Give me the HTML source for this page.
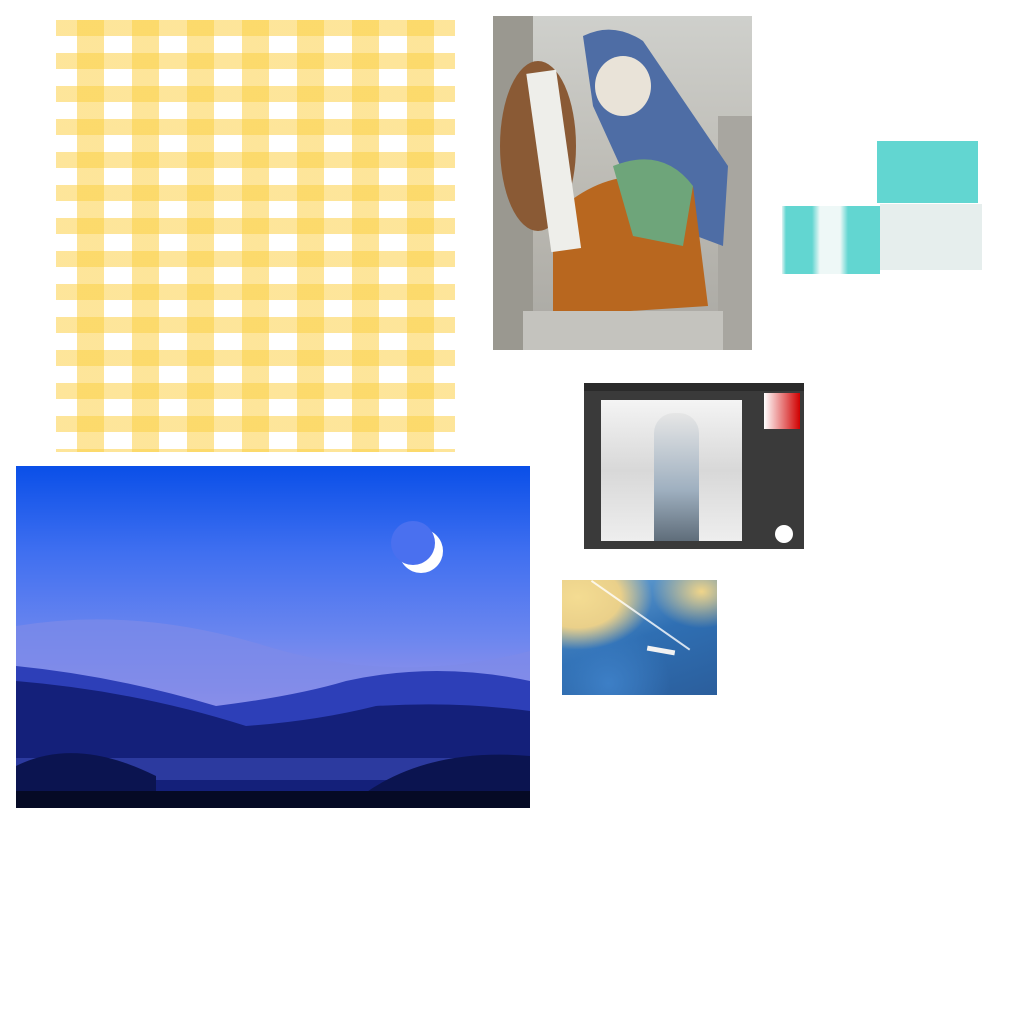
<!DOCTYPE html>
<html><head><meta charset="utf-8">
<style>
html,body{margin:0;padding:0;background:#fff;width:1024px;height:1024px;overflow:hidden;position:relative;font-family:"Liberation Sans",sans-serif}
.a{position:absolute}
#ging{left:56px;top:20px;width:399px;height:432px;
background:
repeating-linear-gradient(90deg,transparent 0 21px,rgba(252,208,70,.55) 21px 48px,transparent 48px 55px),
repeating-linear-gradient(180deg,rgba(252,208,70,.55) 0 16px,transparent 16px 33px),#fff;}
</style></head><body>
<div class="a" id="ging"></div>

<div class="a" style="left:493px;top:16px;width:259px;height:334px;background:linear-gradient(180deg,#cfd0cc,#b9b7b0 60%,#a9a8a3);overflow:hidden">
<svg width="259" height="334" viewBox="0 0 259 334">
<rect x="0" y="0" width="40" height="334" fill="#9a9890"/>
<rect x="225" y="100" width="34" height="234" fill="#a8a6a0"/>
<ellipse cx="45" cy="130" rx="38" ry="85" fill="#8a5a35"/>
<path d="M90 20 Q120 5 150 25 L235 150 L230 230 L150 200 L100 90 Z" fill="#4e6da5"/>
<ellipse cx="130" cy="70" rx="28" ry="30" fill="#e9e3d8"/>
<path d="M60 200 Q120 140 200 170 L215 290 L60 300 Z" fill="#b8671f"/>
<path d="M120 150 Q170 130 200 170 L190 230 L140 220 Z" fill="#6ea57a"/>
<rect x="45" y="55" width="30" height="180" fill="#eeeeea" transform="rotate(-8 60 140)"/>
<rect x="30" y="295" width="200" height="39" fill="#c4c3be"/>
</svg></div>

<div class="a" style="left:877px;top:141px;width:101px;height:62px;background:#62d6d1"></div>
<div class="a" style="left:880px;top:204px;width:102px;height:66px;background:#e6eeed"></div>
<div class="a" style="left:782px;top:206px;width:98px;height:68px;background:linear-gradient(90deg,#e0f2f1 0,#62d6d1 4px,#62d6d1 30px,#eef8f7 38px,#eef8f7 58px,#62d6d1 66px,#62d6d1 98px)"></div>

<div class="a" style="left:584px;top:383px;width:220px;height:166px;background:#3a3a3a">
<div class="a" style="left:0;top:0;width:220px;height:8px;background:#2a2a2a"></div>
<div class="a" style="left:17px;top:17px;width:141px;height:141px;background:linear-gradient(180deg,#f4f4f4,#d8d8d8 50%,#eee)"></div>
<div class="a" style="left:70px;top:30px;width:45px;height:128px;border-radius:20px 20px 0 0;background:linear-gradient(180deg,#e6e6e6,#9fb0c0 60%,#5f6d7a)"></div>
<div class="a" style="left:180px;top:10px;width:36px;height:36px;background:linear-gradient(90deg,#fff,#d00000),#000"></div>
<div class="a" style="left:191px;top:142px;width:18px;height:18px;border-radius:50%;background:#fff"></div>
</div>

<div class="a" style="left:562px;top:580px;width:155px;height:115px;background:radial-gradient(ellipse at 10% 15%,#f4dc92 0,#ead08a 22%,transparent 38%),radial-gradient(ellipse at 90% 10%,#f0d58a 0,transparent 25%),radial-gradient(ellipse at 30% 90%,#3d7fc6 0,transparent 40%),linear-gradient(160deg,#6fa9d8,#2f6fb3 50%,#2b5e9c)">
<div class="a" style="left:30px;top:0;width:120px;height:2px;background:#fff;transform:rotate(35deg);transform-origin:0 0;opacity:.8"></div>
<div class="a" style="left:85px;top:68px;width:28px;height:5px;background:#f2f2f2;transform:rotate(10deg)"></div>
</div>

<div class="a" style="left:16px;top:466px;width:514px;height:342px;overflow:hidden;background:linear-gradient(180deg,#0a4fe8 0,#3f6ff0 25%,#6b86ef 50%,#8f90ea 65%,#b4a0ec 75%)">
<svg width="514" height="342" viewBox="0 0 514 342">
<circle cx="405" cy="85" r="22" fill="#fff"/><circle cx="397" cy="77" r="22" fill="#4a70ef"/>
<path d="M0 160 Q120 140 250 180 T514 185 L514 342 L0 342Z" fill="#7d8ae8" opacity=".7"/>
<path d="M0 200 Q100 210 200 240 Q280 230 330 215 Q420 195 514 215 L514 342 L0 342Z" fill="#2d3fb8"/>
<path d="M0 215 Q120 225 230 260 Q300 255 360 240 Q440 235 514 245 L514 342 L0 342Z" fill="#14207a"/>
<rect x="0" y="292" width="514" height="22" fill="#2c3a9f"/>
<path d="M0 300 Q60 270 140 310 L140 342 L0 342Z" fill="#0b1450"/>
<path d="M330 342 Q400 280 514 290 L514 342Z" fill="#0b1450"/>
<rect x="0" y="325" width="514" height="17" fill="#050a25"/>
</svg></div>
</body></html>
